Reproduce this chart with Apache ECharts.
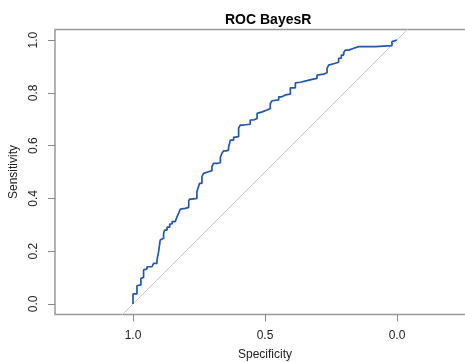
<!DOCTYPE html>
<html>
<head>
<meta charset="utf-8">
<script src="https://cdn.jsdelivr.net/npm/echarts@6/dist/echarts.min.js"></script>
<style>
  html, body { margin: 0; padding: 0; background: #fff; }
  #chart { width: 465px; height: 362px; }
</style>
</head>
<body>
<div id="chart"></div>
<script>
// specificity / sensitivity
const specificity = [1.0, 0.995, 0.985, 0.979, 0.970, 0.970, 0.960, 0.953, 0.947, 0.928,
  0.922, 0.909, 0.903, 0.903, 0.897, 0.894, 0.884, 0.880, 0.871, 0.861,
  0.852, 0.840, 0.833, 0.827, 0.821, 0.814, 0.802, 0.789, 0.786, 0.777,
  0.758, 0.752, 0.748, 0.739, 0.733, 0.726, 0.714, 0.701, 0.695, 0.682,
  0.669, 0.663, 0.657, 0.647, 0.638, 0.631, 0.619, 0.613, 0.600, 0.594,
  0.581, 0.556, 0.543, 0.530, 0.524, 0.511, 0.492, 0.480, 0.473, 0.467,
  0.448, 0.436, 0.423, 0.404, 0.404, 0.385, 0.379, 0.366, 0.341, 0.322, 0.303,
  0.297, 0.278, 0.265, 0.259, 0.253, 0.234, 0.221, 0.211, 0.202, 0.196,
  0.183, 0.164, 0.145, 0.082, 0.082, 0.019, 0.013, 0.0];
const sensitivity = [0.0, 0.038, 0.038, 0.069, 0.072, 0.097, 0.100, 0.129, 0.133, 0.141,
  0.148, 0.154, 0.167, 0.198, 0.205, 0.242, 0.249, 0.268, 0.280, 0.291,
  0.303, 0.312, 0.318, 0.331, 0.344, 0.359, 0.362, 0.366, 0.388, 0.397,
  0.400, 0.425, 0.444, 0.457, 0.482, 0.495, 0.501, 0.505, 0.520, 0.533,
  0.535, 0.556, 0.571, 0.580, 0.583, 0.594, 0.621, 0.631, 0.634, 0.666,
  0.678, 0.681, 0.697, 0.703, 0.722, 0.728, 0.735, 0.741, 0.760, 0.770,
  0.773, 0.785, 0.792, 0.795, 0.811, 0.819, 0.838, 0.840, 0.846, 0.851, 0.855,
  0.867, 0.871, 0.876, 0.893, 0.905, 0.912, 0.916, 0.931, 0.943, 0.952,
  0.962, 0.969, 0.975, 0.975, 0.979, 0.979, 0.994, 1.0];

const xTicks = [0, 0.5, 1];
const yTicks = [0, 0.2, 0.4, 0.6, 0.8, 1.0];
// chance line from (1,0) to (0,1), extended past the plot
const diagonal = [[1.4, -0.4], [-0.4, 1.4]];

const font = 'Liberation Sans, Arial, sans-serif';
const chart = echarts.init(document.getElementById('chart'));

chart.setOption({
  animation: false,
  title: {
    text: 'ROC BayesR',
    left: 220,
    top: 8,
    textStyle: { fontFamily: font, fontSize: 14, fontWeight: 'bold', color: '#000' }
  },
  grid: {
    left: 55, top: 29.5, width: 420, height: 285,
    outerBoundsMode: 'none',
    containLabel: false,
    show: true, borderColor: '#999', borderWidth: 1.5
  },
  xAxis: {
    type: 'value',
    inverse: true,
    min: -0.2955, max: 1.2955,
    name: 'Specificity',
    nameLocation: 'middle',
    nameGap: 34,
    nameTextStyle: { fontFamily: font, fontSize: 12, color: '#222' },
    axisLine: { show: false, onZero: false },
    splitLine: { show: false },
    axisTick: { show: true, length: 7, lineStyle: { color: '#888' }, customValues: xTicks },
    axisLabel: {
      fontFamily: font, fontSize: 12, color: '#222', margin: 15,
      customValues: xTicks,
      formatter: v => v.toFixed(1)
    }
  },
  yAxis: {
    type: 'value',
    min: -0.04, max: 1.04,
    name: 'Sensitivity',
    nameLocation: 'middle',
    nameGap: 34,
    nameTextStyle: { fontFamily: font, fontSize: 12, color: '#222' },
    axisLine: { show: false, onZero: false },
    splitLine: { show: false },
    axisTick: { show: true, length: 7, lineStyle: { color: '#888' }, customValues: yTicks },
    axisLabel: {
      fontFamily: font, fontSize: 12, color: '#222', margin: 15, rotate: 90,
      customValues: yTicks,
      formatter: v => v.toFixed(1)
    }
  },
  series: [
    {
      type: 'line',
      data: diagonal,
      showSymbol: false,
      clip: true,
      silent: true,
      lineStyle: { color: '#c8c8c8', width: 1 }
    },
    {
      type: 'line',
      data: specificity.map((s, i) => [s, sensitivity[i]]),
      step: 'start',
      showSymbol: false,
      clip: true,
      lineStyle: { color: '#2457a8', width: 1.7 }
    }
  ]
});
</script>
</body>
</html>
